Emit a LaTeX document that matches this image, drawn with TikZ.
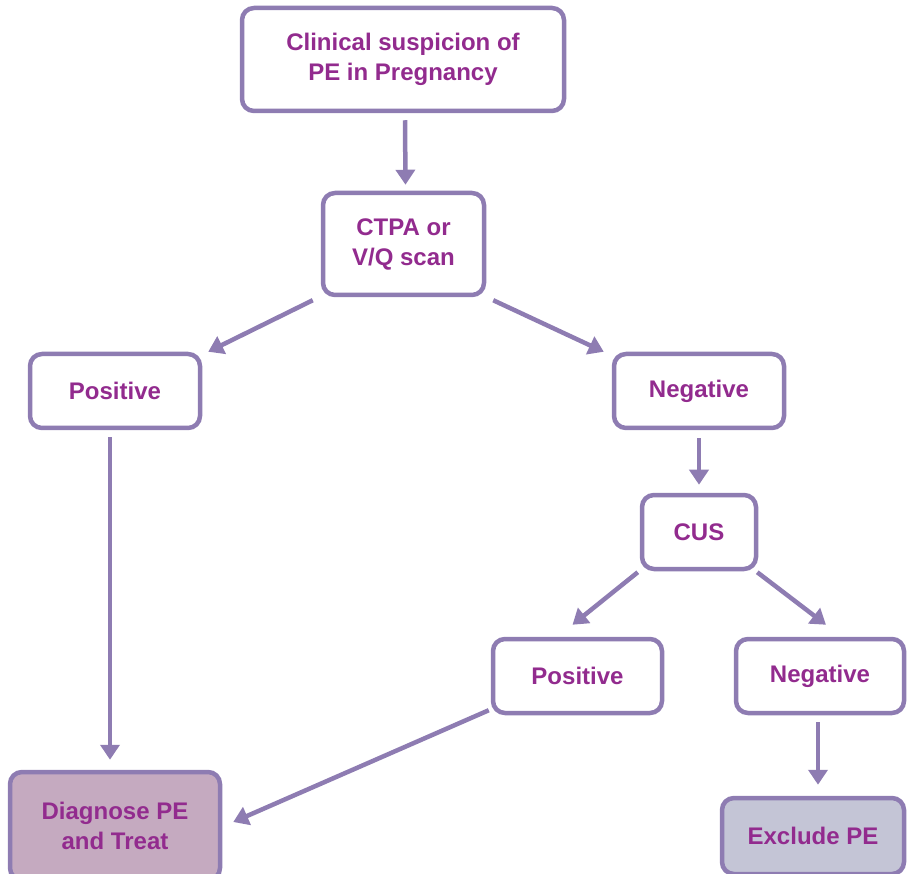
\documentclass[tikz,border=0pt]{standalone}
\usepackage{fontspec}
\setmainfont{Liberation Sans}
\usetikzlibrary{arrows.meta}
\definecolor{bordc}{HTML}{8E7CB2}
\definecolor{textc}{HTML}{922B8E}
\definecolor{diagfill}{HTML}{C5AAC0}
\definecolor{exclfill}{HTML}{C4C5D6}
\tikzset{
  box/.style={draw=bordc, line width=4.5pt, rounded corners=12pt, fill=white,
    text=textc, font=\fontsize{24}{30}\selectfont\bfseries, align=center,
    inner sep=0pt},
  conn/.style={draw=bordc, line width=4.5pt, -{Triangle[width=19pt,length=15pt]}}
}
\begin{document}
\begin{tikzpicture}[x=1pt,y=-1pt]
\useasboundingbox (0,0) rectangle (908,874);
\node[box, minimum width=322pt, minimum height=103pt] (top) at (403,59.5) {Clinical suspicion of\\PE in Pregnancy};
\node[box, minimum width=161pt, minimum height=102pt] (ctpa) at (403.5,244) {CTPA or\\V/Q scan};
\node[box, minimum width=170pt, minimum height=74pt] (posl) at (115,391) {Positive};
\node[box, minimum width=170pt, minimum height=74pt] (neg) at (699,391) {Negative};
\node[box, minimum width=114pt, minimum height=74pt] (cus) at (699,532) {CUS};
\node[box, minimum width=169pt, minimum height=74pt] (posr) at (577.5,676) {Positive};
\node[box, minimum width=168pt, minimum height=74pt] (negr) at (820,676) {Negative};
\node[box, fill=diagfill, minimum width=210pt, minimum height=108pt] (diag) at (115,826) {Diagnose PE\\and Treat};
\node[box, fill=exclfill, minimum width=182pt, minimum height=76pt] (excl) at (813,836) {Exclude PE};

\draw[conn] ([shift={(2,7)}]top.south) -- ([shift={(2,-6)}]ctpa.north);
\draw[conn] ([shift={(-8,3)}]ctpa.south west) -- ([shift={(6,0)}]posl.north east);
\draw[conn] ([shift={(7,3)}]ctpa.south east) -- ([shift={(-8,0)}]neg.north west);
\draw[conn] ([shift={(0,8)}]neg.south) -- ([shift={(0,-8)}]cus.north);
\draw[conn] ([shift={(-2,1)}]cus.south west) -- ([shift={(-5,-12)}]posr.north);
\draw[conn] ([shift={(-1,1)}]cus.south east) -- ([shift={(6,-12)}]negr.north);
\draw[conn] ([shift={(-5,7)}]posl.south) -- ([shift={(-5,-10)}]diag.north);
\draw[conn] ([shift={(-2,-5)}]posr.south west) -- ([shift={(11,-4)}]diag.east);
\draw[conn] ([shift={(-2,7)}]negr.south) -- ([shift={(5,-11)}]excl.north);
\end{tikzpicture}
\end{document}
